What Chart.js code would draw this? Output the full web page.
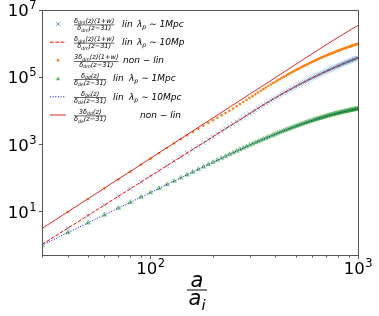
<!DOCTYPE html>
<html>
<head>
<meta charset="utf-8">
<script src="https://cdn.jsdelivr.net/npm/chart.js@4.4.1/dist/chart.umd.min.js"></script>
<style>
  html, body { margin: 0; padding: 0; background: #fff; }
  #wrap { width: 379px; height: 316px; }
</style>
</head>
<body>
<div id="wrap"><canvas id="growthChart" width="379" height="316"></canvas></div>
<script>
// a/a_i, one sample every 10
const scaleA = [30, 40, 50, 60, 70, 80, 90, 100, 110, 120, 130, 140, 150, 160, 170, 180, 190, 200,
  210, 220, 230, 240, 250, 260, 270, 280, 290, 300, 310, 320, 330, 340, 350, 360, 370, 380, 390, 400,
  410, 420, 430, 440, 450, 460, 470, 480, 490, 500, 510, 520, 530, 540, 550, 560, 570, 580, 590, 600,
  610, 620, 630, 640, 650, 660, 670, 680, 690, 700, 710, 720, 730, 740, 750, 760, 770, 780, 790, 800,
  810, 820, 830, 840, 850, 860, 870, 880, 890, 900, 910, 920, 930, 940, 950, 960, 970, 980, 990, 1000];

// delta_dm(z)(1+w)/delta_dm(z-31), linear (1 Mpc and 10 Mpc give the same curve)
const dmLin = [1.03, 3.16, 7.54, 15.4, 28.0, 47.1, 74.6, 113, 163, 229, 313, 418, 547, 704, 891, 1114, 1376, 1680,
  2032, 2436, 2896, 3420, 4010, 4675, 5416, 6243, 7157, 8166, 9287, 10510, 11840, 13280, 14820, 16460, 18230, 20110, 22110, 24230,
  26460, 28800, 31300, 33930, 36640, 39530, 42500, 45610, 48900, 52280, 55800, 59440, 63240, 67170, 71220, 75390, 79700, 84120, 88750, 93460,
  98240, 103200, 108300, 113600, 118900, 124400, 130000, 135700, 141500, 147500, 153700, 159800, 166200, 172600, 179300, 185900, 192800, 199700, 206700, 213900,
  221100, 228400, 235900, 243500, 251100, 258900, 266800, 274700, 282800, 290900, 299100, 307400, 316000, 324400, 332900, 341800, 350500, 359300, 368200, 377300];

// 3 delta_dm(z)(1+w)/delta_dm(z-31), non-linear
const dmNonLin = [3.01, 9.51, 23.2, 48.1, 89.1, 152.1, 243.4, 371.2, 543.5, 769.6, 1060, 1409, 1837, 2323, 2892, 3554, 4313, 5171,
  6172, 7298, 8559, 9986, 11570, 13510, 15690, 18110, 20790, 23770, 27070, 30670, 34640, 38980, 43720, 48840, 54350, 60220, 66460, 73080,
  80090, 87360, 95150, 103300, 111700, 120600, 129900, 139400, 149400, 159700, 170400, 181500, 192900, 204700, 216800, 229200, 241900, 254900, 268400, 282000,
  295800, 310100, 324600, 339500, 354500, 369800, 385600, 401300, 417300, 433700, 450300, 466800, 483700, 500700, 518200, 535700, 553400, 571100, 588800, 607000,
  625400, 643500, 662100, 680700, 699100, 718100, 736700, 755900, 774700, 793400, 812700, 832000, 851100, 870100, 889400, 909000, 928300, 947300, 966700, 986300];

// delta_dd(z)/delta_de(z-31), linear (1 Mpc and 10 Mpc give the same curve)
const ddLin = [0.979, 2.32, 4.54, 7.84, 12.45, 18.58, 26.45, 36.28, 48.3, 62.7, 79.7, 99.5, 122.5, 148.7, 178.3, 211.7, 248.9, 289.7,
  334.8, 384.0, 437.5, 495.3, 557.3, 624.2, 695.2, 770.3, 850.5, 934.3, 1023, 1116, 1213, 1315, 1421, 1530, 1644, 1762, 1883, 2008,
  2136, 2268, 2404, 2543, 2683, 2829, 2975, 3124, 3278, 3433, 3589, 3748, 3909, 4072, 4236, 4401, 4569, 4736, 4907, 5078,
  5248, 5421, 5592, 5768, 5940, 6112, 6288, 6461, 6633, 6808, 6982, 7153, 7324, 7495, 7667, 7835, 8005, 8172, 8338, 8504,
  8670, 8833, 8995, 9156, 9313, 9471, 9625, 9779, 9931, 10080, 10230, 10380, 10520, 10660, 10800, 10950, 11080, 11210, 11350, 11480];

// 3 delta_dd(z)/delta_de(z-31), non-linear (solid line)
const ddNonLinA = [30, 40, 50, 60, 80, 100, 150, 200, 300, 400, 500, 600, 650, 700, 750, 800, 850, 900, 950, 1000];
const ddNonLin = [3.08, 9.73, 23.7, 49.2, 155.6, 379.9, 1923, 6076, 30760, 97270, 237400, 492400, 677600, 907800,
  1187000, 1518000, 1908000, 2358000, 2875000, 3465000];

const xMajorTicks = [100, 1000];
const xMajorExp = ['2', '3'];
const xMinorTicks = [30, 40, 50, 60, 70, 80, 90, 200, 300, 400, 500, 600, 700, 800, 900];
const yMajorTicks = [10, 1000, 100000, 10000000];
const yMajorExp = ['1', '3', '5', '7'];

const legendNum = ['δ_{dm}(z)(1+w)', 'δ_{dm}(z)(1+w)', '3δ_{dm}(z)(1+w)', 'δ_{dd}(z)', 'δ_{de}(z)', '3δ_{dd}(z)'];
const legendDen = ['δ_{dm}(z−31)', 'δ_{dm}(z−31)', 'δ_{dm}(z−31)', 'δ_{de}(z−31)', 'δ_{de}(z−31)', 'δ_{de}(z−31)'];
const legendKind = ['lin', 'lin', 'non − lin', 'lin', 'lin', 'non − lin'];
const legendScale = ['λ_{p} ∼ 1Mpc', 'λ_{p} ∼ 10Mp', '', 'λ_{p} ∼ 1Mpc', 'λ_{p} ∼ 10Mpc', ''];

const FONT = '"DejaVu Sans", sans-serif';
const frameColor = '#555';

function pts(xs, ys) {
    return xs.map((x, i) => ({ x: x, y: ys[i] }));
}

// split "δ_{dm}(z)" into normal / subscript runs
function runs(s) {
    const out = [];
    s.replace(/_\{([^}]*)\}|[^_]+/g, (m, sub) => {
        out.push(sub !== undefined ? { t: sub, sub: true } : { t: m, sub: false });
        return m;
    });
    return out;
}

function mathWidth(ctx, s, size) {
    let w = 0;
    for (const r of runs(s)) {
        ctx.font = `italic ${r.sub ? size * 0.7 : size}px ${FONT}`;
        w += ctx.measureText(r.t).width;
    }
    return w;
}

function drawMath(ctx, s, x, y, size) {
    for (const r of runs(s)) {
        const fs = r.sub ? size * 0.7 : size;
        ctx.font = `italic ${fs}px ${FONT}`;
        ctx.fillText(r.t, x, r.sub ? y + size * 0.22 : y);
        x += ctx.measureText(r.t).width;
    }
    return x;
}

function drawPower(ctx, exp, x, y, align) {
    ctx.font = `16.5px ${FONT}`;
    const wBase = ctx.measureText('10').width;
    ctx.font = `11.5px ${FONT}`;
    const wExp = ctx.measureText(exp).width;
    const left = align === 'right' ? x - wBase - wExp - 0.5 : x - (wBase + wExp) / 2;
    ctx.font = `16.5px ${FONT}`;
    ctx.fillText('10', left, y);
    ctx.font = `11.5px ${FONT}`;
    ctx.fillText(exp, left + wBase + 0.5, y - 7);
}

function drawHandle(ctx, i, cx, cy) {
    ctx.save();
    if (i === 0) {
        ctx.strokeStyle = 'rgba(31,119,180,0.7)';
        ctx.lineWidth = 1;
        ctx.beginPath();
        ctx.moveTo(cx - 1.8, cy - 1.8); ctx.lineTo(cx + 1.8, cy + 1.8);
        ctx.moveTo(cx - 1.8, cy + 1.8); ctx.lineTo(cx + 1.8, cy - 1.8);
        ctx.stroke();
    } else if (i === 2) {
        ctx.fillStyle = '#ff7f0e';
        ctx.beginPath(); ctx.arc(cx, cy, 1.3, 0, Math.PI * 2); ctx.fill();
    } else if (i === 3) {
        ctx.fillStyle = 'rgba(44,160,44,0.75)';
        ctx.beginPath();
        ctx.moveTo(cx, cy - 2.2); ctx.lineTo(cx + 2.2, cy + 1.6); ctx.lineTo(cx - 2.2, cy + 1.6);
        ctx.closePath(); ctx.fill();
    } else {
        const style = { 1: ['#ff0000', [3.7, 1.6]], 4: ['#0000ff', [1, 1.65]], 5: ['#d62728', []] }[i];
        ctx.strokeStyle = style[0];
        ctx.setLineDash(style[1]);
        ctx.lineWidth = 1;
        ctx.beginPath(); ctx.moveTo(cx - 8, cy); ctx.lineTo(cx + 8, cy); ctx.stroke();
    }
    ctx.restore();
}

const axesPlugin = {
    id: 'axesPlugin',
    afterDraw(chart) {
        const ctx = chart.ctx;
        const area = chart.chartArea;
        const xs = chart.scales.x;
        const ys = chart.scales.y;
        ctx.save();

        // frame
        ctx.strokeStyle = frameColor;
        ctx.lineWidth = 1;
        ctx.strokeRect(area.left + 0.5, area.top + 0.5, area.right - area.left, area.bottom - area.top);

        // ticks
        ctx.beginPath();
        xMajorTicks.forEach(v => {
            const x = Math.round(xs.getPixelForValue(v)) + 0.5;
            ctx.moveTo(x, area.bottom + 0.5); ctx.lineTo(x, area.bottom + 4);
        });
        xMinorTicks.forEach(v => {
            const x = Math.round(xs.getPixelForValue(v)) + 0.5;
            ctx.moveTo(x, area.bottom + 0.5); ctx.lineTo(x, area.bottom + 2.5);
        });
        yMajorTicks.forEach(v => {
            const y = Math.round(ys.getPixelForValue(v)) + 0.5;
            ctx.moveTo(area.left + 0.5, y); ctx.lineTo(area.left - 3, y);
        });
        ctx.stroke();

        // tick labels
        ctx.fillStyle = '#000';
        ctx.textBaseline = 'alphabetic';
        xMajorTicks.forEach((v, i) => drawPower(ctx, xMajorExp[i], xs.getPixelForValue(v), 273.5, 'center'));
        yMajorTicks.forEach((v, i) => drawPower(ctx, yMajorExp[i], 36.5, ys.getPixelForValue(v) + 6.3, 'right'));

        // x axis title: a / a_i
        const tx = 197;
        ctx.font = `italic 21px ${FONT}`;
        const wa = ctx.measureText('a').width;
        ctx.fillText('a', tx - wa / 2, 286.5);
        ctx.fillRect(tx - 10, 289.5, 20, 1);
        const wDen = mathWidth(ctx, 'a_{i}', 21);
        drawMath(ctx, 'a_{i}', tx - wDen / 2, 305, 21);

        // legend
        const kindX = [122, 122, 123, 113, 113, 140];
        const scaleX = [137, 137, 0, 129, 129, 0];
        legendNum.forEach((num, i) => {
            const cy = 24 + i * 18.2;
            drawHandle(ctx, i, 58, cy);
            ctx.fillStyle = '#000';
            const fs = 6.6;
            const wn = mathWidth(ctx, num, fs);
            const wd = mathWidth(ctx, legendDen[i], fs);
            const w = Math.max(wn, wd);
            const fx = 74;
            drawMath(ctx, num, fx + (w - wn) / 2, cy - 1, fs);
            ctx.fillRect(fx, cy + 0.6, w, 0.6);
            drawMath(ctx, legendDen[i], fx + (w - wd) / 2, cy + 6.2, fs);
            drawMath(ctx, legendKind[i], kindX[i], cy + 2.8, 9);
            if (legendScale[i]) drawMath(ctx, legendScale[i], scaleX[i], cy + 2.8, 9);
        });
        ctx.restore();
    }
};

new Chart(document.getElementById('growthChart'), {
    type: 'line',
    data: {
        datasets: [
            {
                data: pts(scaleA, dmLin), showLine: false, pointStyle: 'crossRot', pointRadius: 3,
                pointBorderWidth: 1, borderColor: 'rgba(31,119,180,0.5)', backgroundColor: 'rgba(31,119,180,0.5)', order: 6
            },
            {
                data: pts(scaleA, dmLin), borderColor: '#ff0000', borderWidth: 1, borderDash: [3.7, 1.6],
                pointRadius: 0, tension: 0, order: 5
            },
            {
                data: pts(scaleA, dmNonLin), showLine: false, pointStyle: 'circle', pointRadius: 1.3,
                pointBorderWidth: 0, backgroundColor: '#ff7f0e', borderColor: '#ff7f0e', order: 4
            },
            {
                data: pts(scaleA, ddLin), showLine: false, pointStyle: 'triangle', pointRadius: 2.8,
                pointBorderWidth: 0.5, backgroundColor: 'rgba(44,160,44,0.55)', borderColor: 'rgba(44,160,44,0.55)', order: 3
            },
            {
                data: pts(scaleA, ddLin), borderColor: '#0000ff', borderWidth: 1, borderDash: [1, 1.65],
                pointRadius: 0, tension: 0, order: 2
            },
            {
                data: pts(ddNonLinA, ddNonLin), borderColor: '#d62728', borderWidth: 1,
                pointRadius: 0, tension: 0, order: 1
            }
        ]
    },
    options: {
        responsive: false,
        animation: false,
        events: [],
        layout: { padding: { left: 42, right: 21, top: 10, bottom: 61 } },
        scales: {
            x: { type: 'logarithmic', min: 30, max: 1000, display: false },
            y: { type: 'logarithmic', min: 0.5, max: 10000000, display: false }
        },
        plugins: { legend: { display: false }, tooltip: { enabled: false } }
    },
    plugins: [axesPlugin]
});
</script>
</body>
</html>
